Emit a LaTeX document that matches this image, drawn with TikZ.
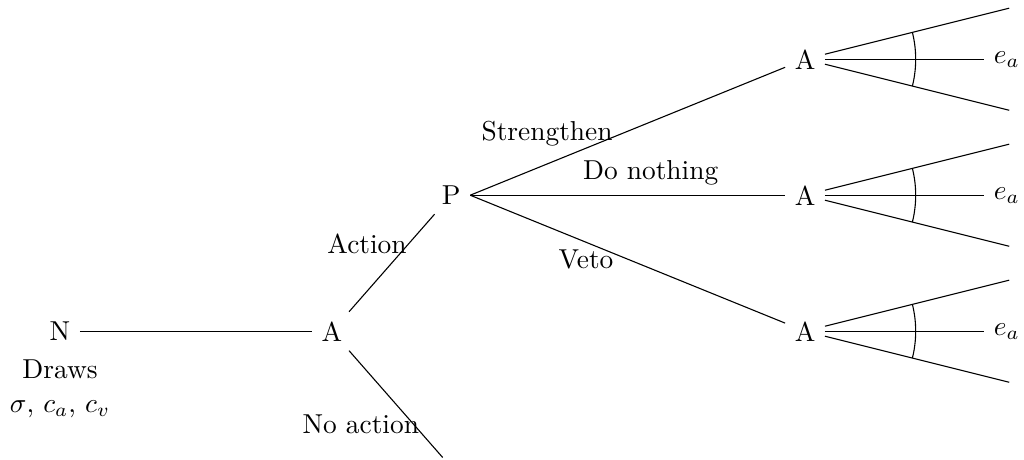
\documentclass[tikz,border=0pt]{standalone}
\usetikzlibrary{positioning}
\tikzset{branch/.style = {line width=0.4pt}}
\tikzset{fanarc/.style = {branch}}

\begin{document}
\begin{tikzpicture}
    \useasboundingbox (-0.77,-1.64) rectangle (12.37,4.25);

    \node       (n)  at (0,0)        {N};
    \node       (a)  at (3.49,0)     {A};
    \node       (p)  at (5.02,1.745) {P};
    \coordinate (na) at (4.91,-1.62);

    \node       (draws)  at (0,-0.49) {Draws};
    \node       (params) at (0,-1.0)  {$\sigma$, $c_a$, $c_v$};

    \node       (lact)   at (3.94,1.12)  {Action};
    \node       (lnoact) at (3.86,-1.19) {No action};
    \node       (lstr)   at (6.25,2.54)  {Strengthen};
    \node       (ldo)    at (7.58,2.03)  {Do nothing};
    \node       (lveto)  at (6.75,0.92)  {Veto};

    \draw[branch] (n) to (a);
    \draw[branch] (a) to (p);
    \draw[branch] (a) to (na);

    \foreach \Name/\Y in {s/3.49, d/1.745, v/0} {
        \node       (a\Name)  at (9.56,\Y)  {A};
        \node       (e\Name)  at (12.15,\Y) {$e_a$};
        \coordinate (hi\Name) at (12.18,\Y+0.655);
        \coordinate (lo\Name) at (12.18,\Y-0.655);
        \draw[branch] (p.east) to (a\Name);
        \draw[branch] (a\Name) to (e\Name);
        \draw[branch] (a\Name) to (hi\Name);
        \draw[branch] (a\Name) to (lo\Name);
        \draw[fanarc] ([shift={(-14:1.42)}]a\Name.center) arc (-14:14:1.42);
    }
\end{tikzpicture}
\end{document}
